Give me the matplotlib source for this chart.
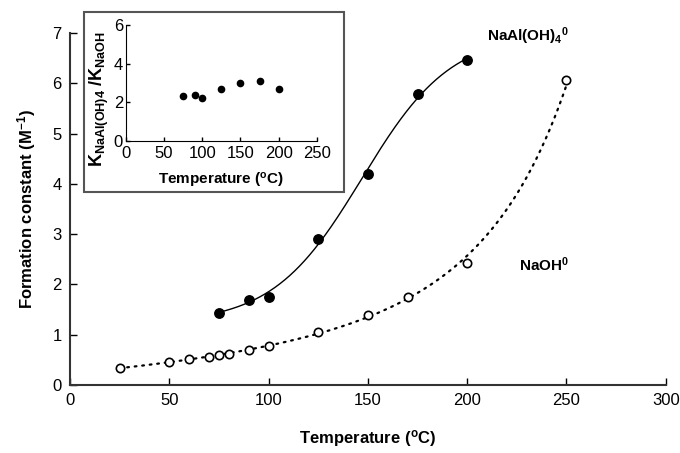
import numpy as np
import matplotlib
matplotlib.use("Agg")
import matplotlib.pyplot as plt
from matplotlib.patches import Rectangle

plt.rcParams['font.family'] = ['Liberation Sans', 'DejaVu Sans']
plt.rcParams['mathtext.fontset'] = 'custom'
plt.rcParams['mathtext.rm'] = 'Liberation Sans'
plt.rcParams['mathtext.bf'] = 'Liberation Sans:bold'
plt.rcParams['mathtext.it'] = 'Liberation Sans:italic'

# NaAl(OH)4^0 formation constants
t_al = [75, 90, 100, 125, 150, 175, 200]
k_al = [1.44, 1.70, 1.76, 2.90, 4.20, 5.78, 6.47]

# NaOH^0 formation constants
t_na = [25, 50, 60, 70, 75, 80, 90, 100, 125, 150, 170, 200, 250]
k_na = [0.34, 0.45, 0.52, 0.56, 0.60, 0.62, 0.70, 0.77, 1.06, 1.40, 1.75, 2.42, 6.06]

# ratio K_NaAl(OH)4 / K_NaOH
t_ratio = [75, 90, 100, 125, 150, 175, 200]
ratio = [2.33, 2.38, 2.23, 2.68, 3.00, 3.09, 2.68]

x_ticks = [0, 50, 100, 150, 200, 250, 300]
y_ticks = [0, 1, 2, 3, 4, 5, 6, 7]
in_x_ticks = [0, 50, 100, 150, 200, 250]
in_y_ticks = [0, 2, 4, 6]


def logistic_fit(x, y):
    """Least-squares fit y = b + a / (1 + exp(-(x - c) / s))."""
    x = np.asarray(x, float)
    y = np.asarray(y, float)
    best = None
    for c in np.linspace(100, 200, 201):
        for s in np.linspace(5, 60, 111):
            g = 1.0 / (1.0 + np.exp(-(x - c) / s))
            A = np.column_stack([g, np.ones_like(g)])
            coef, *_ = np.linalg.lstsq(A, y, rcond=None)
            r = np.sum((A @ coef - y) ** 2)
            if best is None or r < best[0]:
                best = (r, coef[0], coef[1], c, s)
    _, a, b, c, s = best
    return lambda xx: b + a / (1.0 + np.exp(-(xx - c) / s))


fig = plt.figure(figsize=(6.8, 4.53), dpi=100)
ax = fig.add_axes([0.103, 0.150, 0.876, 0.777])

# fitted curves
f_al = logistic_fit(t_al, k_al)
xa = np.linspace(min(t_al), max(t_al), 300)
ax.plot(xa, f_al(xa), color='black', lw=1.0, zorder=2)

p_na = np.polyfit(t_na, np.log(k_na), 3)
xn = np.linspace(min(t_na), max(t_na), 300)
ax.plot(xn, np.exp(np.polyval(p_na, xn)), color='black', lw=1.6,
        linestyle=(0, (0.8, 2.6)), dash_capstyle='round', zorder=2)

ax.plot(t_al, k_al, 'o', color='black', ms=6.8, zorder=3)
ax.plot(t_na, k_na, 'o', mfc='white', mec='black', mew=1.2, ms=6, zorder=3)

ax.set_xlim(0, 300)
ax.set_ylim(0, 7)
ax.set_xticks(x_ticks)
ax.set_yticks(y_ticks)
for s in ['top', 'right']:
    ax.spines[s].set_visible(False)
for s in ['left', 'bottom']:
    ax.spines[s].set_linewidth(1.5)
    ax.spines[s].set_color('#333333')
ax.tick_params(direction='in', length=5, width=1, labelsize=12, pad=6)
ax.set_xlabel(r'Temperature ($^{\mathbf{o}}$C)', fontsize=12, fontweight='bold', labelpad=14)
ax.set_ylabel(r'Formation constant (M$^{\mathbf{-1}}$)', fontsize=12, fontweight='bold', labelpad=10)

ax.text(210, 6.72, r'NaAl(OH)$_{\mathbf{4}}$$^{\mathbf{0}}$', fontsize=11, fontweight='bold', ha='left', va='bottom')
ax.text(226, 2.2, r'NaOH$^{\mathbf{0}}$', fontsize=11, fontweight='bold', ha='left', va='bottom')

# inset frame
box = Rectangle((0.124, 0.576), 0.382, 0.398, transform=fig.transFigure,
                facecolor='white', edgecolor='#555555', lw=1.5, zorder=5)
fig.patches.append(box)

ins = fig.add_axes([0.185, 0.689, 0.281, 0.256])
ins.set_zorder(6)
ins.plot(t_ratio, ratio, 'o', color='black', ms=4.5)
ins.set_xlim(0, 250)
ins.set_ylim(0, 6)
ins.set_xticks(in_x_ticks)
ins.set_yticks(in_y_ticks)
for s in ['top', 'right']:
    ins.spines[s].set_visible(False)
ins.tick_params(direction='in', length=3, width=1, labelsize=12, pad=4)
ins.tick_params(axis='y', pad=2)
ins.set_xlabel(r'Temperature ($^{\mathbf{o}}$C)', fontsize=11, fontweight='bold', labelpad=7)
ins.set_ylabel(r'K$_{\mathbf{NaAl(OH)4}}$ /K$_{\mathbf{NaOH}}$', fontsize=13, fontweight='bold', labelpad=0)
ins.yaxis.set_label_coords(-0.08, 0.36)

fig.savefig('out.png', dpi=100)
